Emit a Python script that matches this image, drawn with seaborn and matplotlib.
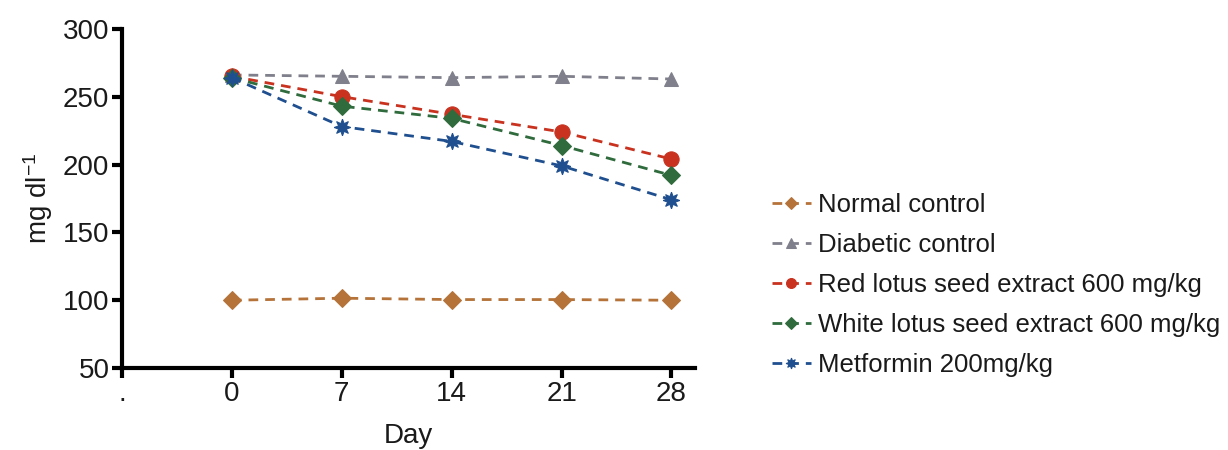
import numpy as np
import pandas as pd
import seaborn as sns
import matplotlib
matplotlib.use("Agg")
import matplotlib.pyplot as plt

days = [0, 7, 14, 21, 28]
groups = ["Normal control", "Diabetic control", "Red lotus seed extract 600 mg/kg",
          "White lotus seed extract 600 mg/kg", "Metformin 200mg/kg"]
normal = [100, 101.5, 100.5, 100.5, 100]
diabetic = [266, 265, 264, 265, 263]
red = [265, 250, 237, 224, 204]
white = [264, 243, 234, 214, 192]
metformin = [264, 228, 217, 199, 174]
xtick_vals = [-7, 0, 7, 14, 21, 28]
xtick_labels = [".", "0", "7", "14", "21", "28"]
yticks = [50, 100, 150, 200, 250, 300]

colors = ["#B5733A", "#80808C", "#C8321F", "#2F6B3C", "#1F4F8F"]
markers = ["D", "^", "o", "D", (8, 1, 0)]
msizes = [9, 10, 11, 9, 12]

sns.set_theme(style="white")
plt.rcParams['font.family'] = ['Liberation Sans', 'DejaVu Sans']
plt.rcParams['mathtext.fontset'] = 'custom'
plt.rcParams['mathtext.rm'] = 'Liberation Sans'
plt.rcParams['mathtext.it'] = 'Liberation Sans'
plt.rcParams['mathtext.default'] = 'regular'

rows = []
for g, vals in zip(groups, [normal, diabetic, red, white, metformin]):
    for d, v in zip(days, vals):
        rows.append({"Day": d, "value": v, "group": g})
df = pd.DataFrame(rows)

fig = plt.figure(figsize=(12.28, 4.5), dpi=100)
ax = fig.add_axes([0.0993, 0.182, 0.4667, 0.754])

for g, c, m, ms in zip(groups, colors, markers, msizes):
    sub = df[df["group"] == g]
    sns.lineplot(data=sub, x="Day", y="value", ax=ax, color=c, marker=m,
                 markersize=ms, markeredgecolor=c, linewidth=2,
                 linestyle=(0, (3.5, 2.5)), label=g)

ax.set_xlim(-7, 29.5)
ax.set_ylim(50, 300)
ax.set_xticks(xtick_vals)
ax.set_xticklabels(xtick_labels)
ax.set_yticks(yticks)
for s in ["top", "right"]:
    ax.spines[s].set_visible(False)
for s in ["left", "bottom"]:
    ax.spines[s].set_linewidth(3)
    ax.spines[s].set_color("black")
ax.tick_params(axis="both", which="both", direction="out", length=7, width=3,
               labelsize=20, color="black", labelcolor="#1a1a1a", pad=2,
               left=True, bottom=True)
ax.set_xlabel("Day", fontsize=20, labelpad=12, color="#1a1a1a")
ax.set_ylabel("mg dl$^{-1}$", fontsize=20, labelpad=6, color="#1a1a1a")
ax.grid(False)

leg = ax.legend(loc="center left", bbox_to_anchor=(0.610, 0.366),
                bbox_transform=fig.transFigure, frameon=False, fontsize=18.5,
                handlelength=1.5, handletextpad=0.3, labelspacing=0.62, markerscale=0.65)
for t in leg.get_texts():
    t.set_color("#1a1a1a")

fig.savefig("out.png", dpi=100)
